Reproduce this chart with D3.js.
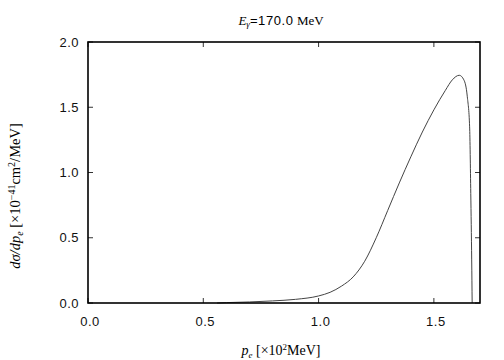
<!DOCTYPE html>
<html><head><meta charset="utf-8">
<script src="https://cdn.jsdelivr.net/npm/d3@7"></script>
<style>body{margin:0;background:#fff}svg{display:block}</style>
</head><body>
<script>
const pe = [0.56, 0.6, 0.7, 0.8, 0.9, 1.0, 1.05, 1.1, 1.15, 1.2, 1.25, 1.3, 1.35, 1.4, 1.45, 1.5, 1.55, 1.58, 1.61, 1.63, 1.645, 1.655, 1.66, 1.664, 1.666];
const dsig = [0.0, 0.003, 0.008, 0.016, 0.028, 0.054, 0.082, 0.13, 0.2, 0.32, 0.5, 0.71, 0.92, 1.12, 1.31, 1.48, 1.63, 1.71, 1.745, 1.71, 1.58, 1.35, 0.84, 0.33, 0.0];
const xTicks = [0.0, 0.5, 1.0, 1.5];
const yTicks = [0.0, 0.5, 1.0, 1.5, 2.0];

const W = 504, H = 360;
const m = {l: 88, r: 480, t: 42, b: 303};
const svg = d3.select("body").append("svg").attr("width", W).attr("height", H);
const x = d3.scaleLinear().domain([0, 1.7]).range([m.l, m.r]);
const y = d3.scaleLinear().domain([0, 2.0]).range([m.b, m.t]);
const sans = "'Liberation Sans', Arial, sans-serif";
const serif = "'Liberation Serif', 'Times New Roman', serif";

const tl = 5;
const g = svg.append("g").attr("stroke", "#333").attr("stroke-width", 1);
xTicks.forEach(v => {
  g.append("line").attr("x1", x(v)).attr("x2", x(v)).attr("y1", m.b).attr("y2", m.b - tl);
  g.append("line").attr("x1", x(v)).attr("x2", x(v)).attr("y1", m.t).attr("y2", m.t + tl);
});
yTicks.forEach(v => {
  g.append("line").attr("x1", m.l).attr("x2", m.l + tl).attr("y1", y(v)).attr("y2", y(v));
  g.append("line").attr("x1", m.r).attr("x2", m.r - tl).attr("y1", y(v)).attr("y2", y(v));
});
svg.append("g").selectAll("text").data(xTicks).join("text")
  .attr("x", d => x(d) + 2).attr("y", m.b + 23).attr("text-anchor", "middle")
  .attr("font-family", sans).attr("font-size", 13).attr("letter-spacing", 0.5).attr("fill", "#111").text(d => d.toFixed(1));
svg.append("g").selectAll("text").data(yTicks).join("text")
  .attr("x", m.l - 9).attr("y", d => y(d) + 4.5).attr("text-anchor", "end")
  .attr("font-family", sans).attr("font-size", 13).attr("letter-spacing", 0.5).attr("fill", "#111").text(d => d.toFixed(1));

const line = d3.line().x(d => x(d[0])).y(d => y(d[1])).curve(d3.curveMonotoneX);
svg.append("path").datum(pe.map((p, i) => [p, dsig[i]]))
  .attr("d", line).attr("fill", "none").attr("stroke", "#444").attr("stroke-width", 1);

svg.append("rect").attr("x", m.l).attr("y", m.t).attr("width", m.r - m.l).attr("height", m.b - m.t)
  .attr("fill", "none").attr("stroke", "#000").attr("stroke-width", 1.6);

const t = svg.append("text").attr("x", 281).attr("y", 25).attr("text-anchor", "middle")
  .attr("font-size", 13).attr("font-family", serif);
t.append("tspan").attr("font-style", "italic").text("E");
t.append("tspan").attr("font-style", "italic").attr("font-size", 9).attr("dy", 2).text("γ");
t.append("tspan").attr("dy", -2).attr("font-family", sans).attr("letter-spacing", 0.6).text("=170.0");
t.append("tspan").text(" MeV");

const xl = svg.append("text").attr("x", 281).attr("y", 355).attr("text-anchor", "middle")
  .attr("font-size", 14).attr("font-family", serif);
xl.append("tspan").attr("font-style", "italic").text("p");
xl.append("tspan").attr("font-style", "italic").attr("font-size", 9).attr("dy", 3).text("e");
xl.append("tspan").attr("dy", -3).text(" [×10");
xl.append("tspan").attr("font-size", 9).attr("dy", -5).text("2");
xl.append("tspan").attr("dy", 5).text("MeV]");

const yl = svg.append("text").attr("transform", "translate(20,196) rotate(-90)").attr("text-anchor", "middle")
  .attr("font-size", 14.5).attr("font-family", serif);
yl.append("tspan").attr("font-style", "italic").text("dσ/dp");
yl.append("tspan").attr("font-style", "italic").attr("font-size", 10).attr("dy", 3).text("e");
yl.append("tspan").attr("dy", -3).text(" [×10");
yl.append("tspan").attr("font-size", 10).attr("dy", -5).text("−41");
yl.append("tspan").attr("dy", 5).text("cm");
yl.append("tspan").attr("font-size", 10).attr("dy", -5).text("2");
yl.append("tspan").attr("dy", 5).text("/MeV]");
</script>
</body></html>
